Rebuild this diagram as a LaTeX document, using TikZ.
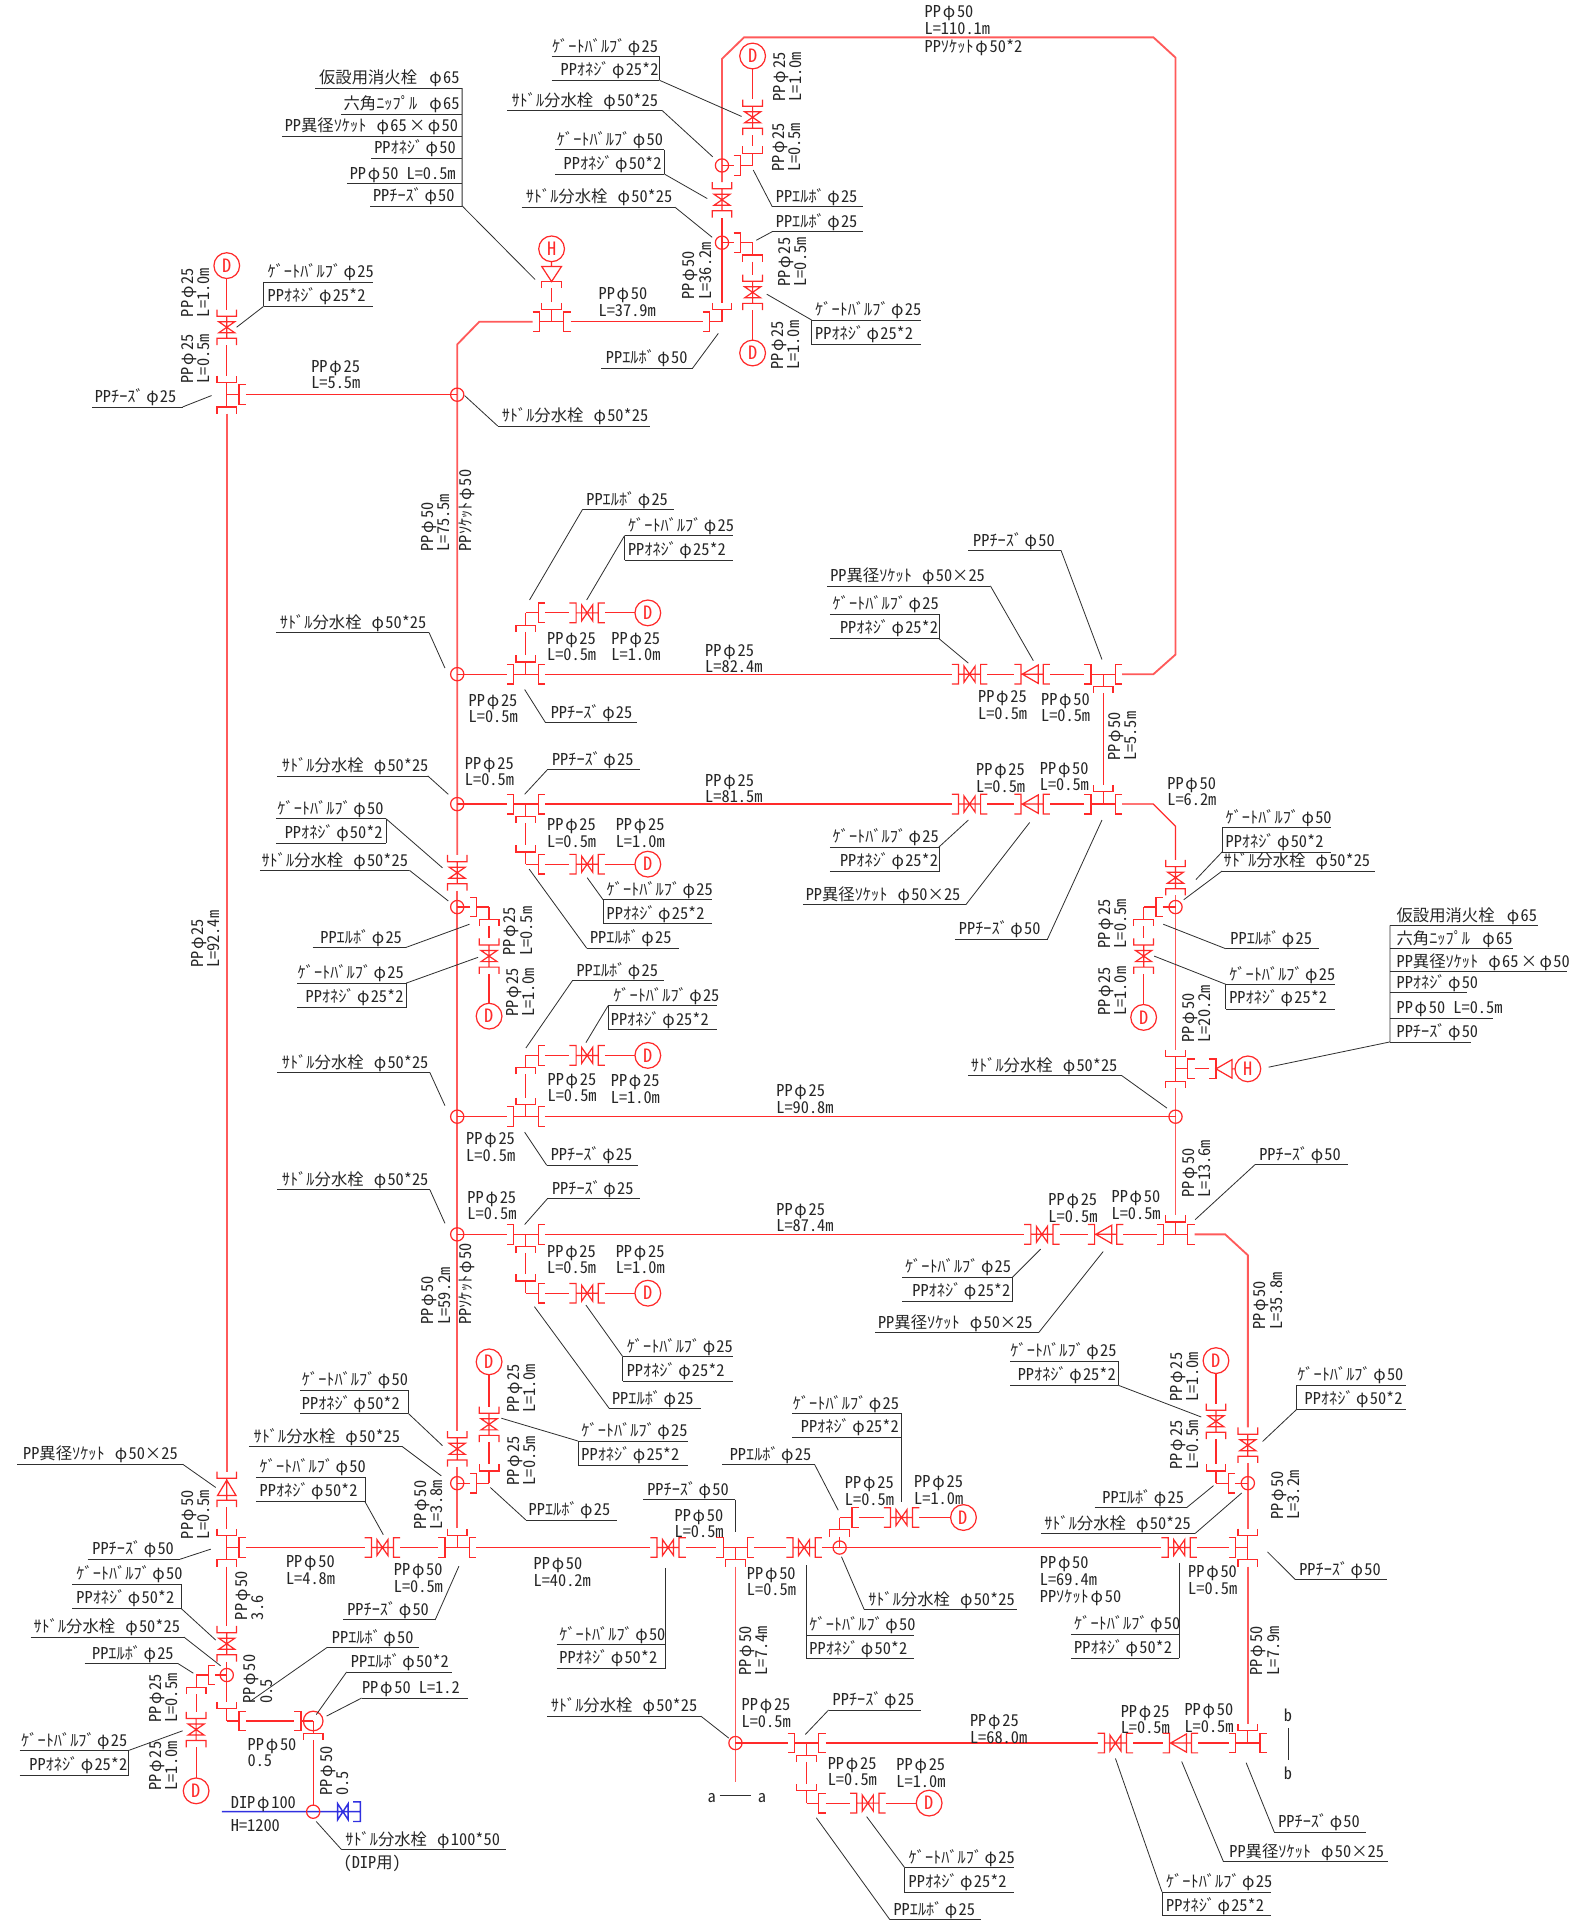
\documentclass[tikz,border=0pt]{standalone}
\usepackage{fontspec}
\setmainfont[RawFeature=+hwid]{Noto Sans CJK JP}
\definecolor{pipered}{HTML}{FF2A2A}
\definecolor{mainred}{HTML}{FF5A5A}
\definecolor{leadgray}{HTML}{303030}
\definecolor{bluepipe}{HTML}{3030E0}
\tikzset{
 pipe/.style={draw=pipered,line width=0.6pt},
 mainpipe/.style={draw=mainred,line width=0.9pt},
 bpipe/.style={draw=bluepipe,line width=0.7pt},
 lead/.style={draw=leadgray,line width=0.4pt},
 txt/.style={anchor=base west,inner sep=0pt,text=black!85,font=\fontsize{8}{8}\selectfont},
 vtxt/.style={txt,rotate=90},
 bub/.style={circle,draw=pipered,line width=0.6pt,minimum size=12.6pt,inner sep=0pt,text=pipered,font=\fontsize{9}{9}\selectfont}
}
\newcount\tc
\newcommand\hs{\hspace{.15em}}
\newcommand\ph{φ\kern.08em}
\newcommand\pk{\kern.11em φ\kern.11em}
\newcommand\lGV[1]{ｹﾞｰﾄﾊﾞﾙﾌﾞ\hs\ph#1}
\newcommand\lON[1]{PPｵﾈｼﾞ\hs\ph#1}
\newcommand\lSD[1]{ｻﾄﾞﾙ分水栓\hspace{.62em}\ph#1}
\newcommand\lEB[1]{PPｴﾙﾎﾞ\hs\ph#1}
\newcommand\lTE[1]{PPﾁｰｽﾞ\hs\ph#1}
\newcommand\lRS[1]{PP異径ｿｹｯﾄ\hspace{.62em}\ph#1}
\newcommand\lP[1]{PP\pk#1}
% text
\newcommand\Tx[3]{\global\advance\tc by 1 \node (t\the\tc) [txt] at ({#1},{#2+5.5}) {#3};}
\newcommand\Tb[4]{\Tx{#1}{#2}{#3}\Tx{#1}{#2+13.5}{#4}}
\newcommand\Vx[3]{\global\advance\tc by 1 \node (t\the\tc) [vtxt] at ({#1+4.5},{#2}) {#3};}
\newcommand\Vb[4]{\Vx{#1-6.7}{#2}{#3}\Vx{#1+6.7}{#2}{#4}}
\newcommand\Ld[1]{\draw[lead] #1;}
\newcommand\UL[5]{\draw[lead] ({#2},{#4})--({#3},{#4}); \Tx{#1}{#4-9}{#5}}
\newcommand\PairL[9]{\draw[lead] ({#1},{#3})--({#2},{#3}) ({#1},{#4})--({#2},{#4}) ({#5},{#3})--({#5},{#4}); \Tx{#6}{#3-9}{#7}\Tx{#8}{#3+10.5}{#9}}
% pipes
\newcommand\Pp[1]{\draw[pipe] #1;}
\newcommand\Mp[1]{\draw[mainpipe] #1;}
\newcommand\armr[2]{\draw[pipe] ({#1},{#2})--({#1+10},{#2}) ({#1+15.5},{#2-8})--({#1+10},{#2-8})--({#1+10},{#2+8})--({#1+15.5},{#2+8});}
\newcommand\arml[2]{\draw[pipe] ({#1},{#2})--({#1-10},{#2}) ({#1-15.5},{#2-8})--({#1-10},{#2-8})--({#1-10},{#2+8})--({#1-15.5},{#2+8});}
\newcommand\armu[2]{\draw[pipe] ({#1},{#2})--({#1},{#2-10}) ({#1-8},{#2-15.5})--({#1-8},{#2-10})--({#1+8},{#2-10})--({#1+8},{#2-15.5});}
\newcommand\armd[2]{\draw[pipe] ({#1},{#2})--({#1},{#2+10}) ({#1-8},{#2+15.5})--({#1-8},{#2+10})--({#1+8},{#2+10})--({#1+8},{#2+15.5});}
\newcommand\Jn[3]{\foreach \dd in {#3}{\csname arm\dd\endcsname{#1}{#2}}}
\newcommand\Vh[2]{\draw[pipe] ({#1-9},{#2})--({#1+9},{#2})
 ({#1-14.5},{#2-8})--({#1-9},{#2-8})--({#1-9},{#2+8})--({#1-14.5},{#2+8})
 ({#1+14.5},{#2-8})--({#1+9},{#2-8})--({#1+9},{#2+8})--({#1+14.5},{#2+8})
 ({#1-4.5},{#2-6.5})--({#1+4.5},{#2+6.5})--({#1+4.5},{#2-6.5})--({#1-4.5},{#2+6.5})--cycle;}
\newcommand\Vv[2]{\draw[pipe] ({#1},{#2-9})--({#1},{#2+9})
 ({#1-8},{#2-14.5})--({#1-8},{#2-9})--({#1+8},{#2-9})--({#1+8},{#2-14.5})
 ({#1-8},{#2+14.5})--({#1-8},{#2+9})--({#1+8},{#2+9})--({#1+8},{#2+14.5})
 ({#1-6.5},{#2-4.5})--({#1+6.5},{#2+4.5})--({#1-6.5},{#2+4.5})--({#1+6.5},{#2-4.5})--cycle;}
\newcommand\Rh[2]{\draw[pipe] ({#1-9},{#2})--({#1+9},{#2})
 ({#1-14.5},{#2-8})--({#1-9},{#2-8})--({#1-9},{#2+8})--({#1-14.5},{#2+8})
 ({#1+14.5},{#2-8})--({#1+9},{#2-8})--({#1+9},{#2+8})--({#1+14.5},{#2+8})
 ({#1-8},{#2})--({#1+5},{#2-7.5})--({#1+5},{#2+7.5})--cycle;}
\newcommand\Rv[2]{\draw[pipe] ({#1},{#2-9})--({#1},{#2+9})
 ({#1-8},{#2-14.5})--({#1-8},{#2-9})--({#1+8},{#2-9})--({#1+8},{#2-14.5})
 ({#1-8},{#2+14.5})--({#1-8},{#2+9})--({#1+8},{#2+9})--({#1+8},{#2+14.5})
 ({#1},{#2-7.5})--({#1-7.5},{#2+5})--({#1+7.5},{#2+5})--cycle;}
\newcommand\Cs[2]{\draw[pipe] ({#1},{#2}) circle [radius=5.4];}
\newcommand\Bb[3]{\global\advance\tc by 1 \node (b\the\tc) [bub] at ({#1},{#2}) {#3};}
\newcommand\Bch[5]{\Jn{429}{#1}{l,r,#3}\Jn{429}{#2}{#4,r}
 \Pp{(429,{#1+#5*15.5})--(429,{#2-#5*15.5})}
 \Vh{479}{#2}\Pp{(444.5,#2)--(464.5,#2) (493.5,#2)--(518,#2)}\Bb{528.5}{#2}{D}}
\begin{document}
\begin{tikzpicture}[x=0.6pt,y=-0.6pt]
\useasboundingbox (0,0) rectangle (1283,1568);
% ---------- main pipes
\Mp{(434.5,262.5)--(391,262.5)--(373,281)--(373,697.5)}
\Vv{373}{712}
\Mp{(373,726.5)--(373,1167.5)}
\Vv{373}{1182}
\Mp{(373,1196.5)--(373,1246.5)}
\Cs{373}{322}\Cs{373}{550}\Cs{373}{656}\Cs{373}{740}\Cs{373}{911}\Cs{373}{1007}\Cs{373}{1210}
\Jn{373}{1262.5}{l,r,u}
% left riser
\Bb{185}{216.7}{D}
\Pp{(185,227)--(185,252.5)}\Vv{185}{267}\Pp{(185,281.5)--(185,306.5)}
\Jn{185}{322}{u,d,r}
\Pp{(200.5,322)--(373,322)}
\Mp{(185,337.5)--(185,1200.5)}
\Rv{185}{1215}\Pp{(185,1229.5)--(185,1247)}
\Jn{185}{1262.5}{u,d,r}
\Pp{(185,1278)--(185,1326.5)}\Vv{185}{1341}\Pp{(185,1355.5)--(185,1388.5)}
\Jn{185}{1404}{u,r}\Pp{(200.5,1404)--(240,1404)}
\Jn{255.5}{1404}{l,d}\draw[pipe] (255.5,1404) circle [radius=8];
\Pp{(255.5,1419.5)--(255.5,1473)}
\Cs{185}{1366.5}
\Jn{160}{1366.5}{r,d}\Pp{(175.5,1366.5)--(185,1366.5) (160,1382)--(160,1396.5)}
\Vv{160}{1411}\Pp{(160,1425.5)--(160,1450.5)}\Bb{160}{1461}{D}
% blue
\draw[bpipe] (181,1478)--(294,1478) (288,1470)--(294,1470)--(294,1486)--(288,1486)
 (275.5,1471.5)--(284,1484.5)--(284,1471.5)--(275.5,1484.5)--cycle;
\Cs{255.5}{1478}
% top loop
\Jn{450}{262.5}{l,r,u}
\Pp{(450,246.5)--(450,235) (442,235)--(442,229.7)--(458,229.7)--(458,235)}
\Pp{(450,229.7)--(442,217.5)--(458,217.5)--cycle (450,217.5)--(450,213.5)}
\Bb{450}{203}{H}
\Pp{(465.5,262.5)--(573.5,262.5)}
\Jn{589}{262.5}{l,u}
\Pp{(589,247)--(589,177.5)}\Vv{589}{163}
\Mp{(589,148.5)--(589,48)--(607,30.5)--(941,30.5)--(959,47)--(959,534)--(941,550)--(915.5,550)}
\Cs{589}{135}\Cs{589}{198}
\Bb{614}{45.7}{D}\Pp{(614,56)--(614,81)}\Vv{614}{95.7}\Pp{(614,110.2)--(614,119.5)}
\Jn{614}{135}{u,l}\Pp{(598.5,135)--(589,135)}
\Jn{614}{198}{l,d}\Pp{(598.5,198)--(589,198) (614,213.5)--(614,224)}
\Vv{614}{238.5}\Pp{(614,253)--(614,277.5)}\Bb{614}{288}{D}
% branches
\Bch{550}{500}{u}{d}{-1}
\Bch{656}{705}{d}{u}{1}
\Bch{911}{861}{u}{d}{-1}
\Bch{1007}{1055}{d}{u}{1}
% row 550
\Pp{(373,550)--(413.5,550) (444.5,550)--(776.5,550) (805.5,550)--(827.5,550) (856.5,550)--(884.5,550)}
\Vh{791}{550}\Rh{842}{550}\Jn{900}{550}{l,r,d}
\Pp{(900,565.5)--(900,640.5)}
% row 656
\Pp{(373,656)--(413.5,656) (444.5,656)--(776.5,656) (805.5,656)--(827.5,656) (856.5,656)--(884.5,656)}
\Vh{791}{656}\Rh{842}{656}\Jn{900}{656}{l,r,u}
\Pp{(915.5,656)--(941,656)--(959,674)--(959,701.5)}
\Vv{959}{716}
\Mp{(959,730.5)--(959,856.5)}
\Cs{959}{740}
\Jn{933}{740}{r,d}\Pp{(948.5,740)--(959,740) (933,755.5)--(933,765.5)}
\Vv{933}{780}\Pp{(933,794.5)--(933,819.5)}\Bb{933}{830}{D}
\Jn{959}{872}{u,d,r}
\Pp{(974.5,872)--(986.5,872) (986.5,864)--(992,864)--(992,880)--(986.5,880)}
\Pp{(992,872)--(1005,864.5)--(1005,879.5)--cycle (1005,872)--(1008,872)}
\Bb{1018}{872}{H}
\Mp{(959,887.5)--(959,991.5)}
% row 911
\Pp{(373,911)--(413.5,911) (444.5,911)--(959,911)}\Cs{959}{911}
% row 1007
\Pp{(373,1007)--(413.5,1007) (444.5,1007)--(835.5,1007) (864.5,1007)--(887.5,1007) (916.5,1007)--(943.5,1007)}
\Vh{850}{1007}\Rh{902}{1007}\Jn{959}{1007}{l,r,u}
\Mp{(974.5,1007)--(999.5,1007)--(1018,1024)--(1018,1164.5)}
\Vv{1018}{1179}\Mp{(1018,1193.5)--(1018,1247)}\Cs{1018}{1210}
\Bb{992}{1110}{D}\Pp{(992,1120.5)--(992,1145)}\Vv{992}{1159.5}\Pp{(992,1174)--(992,1194.5)}
\Jn{992}{1210}{u,r}\Pp{(1007.5,1210)--(1018,1210)}
% row 1262
\Pp{(200.5,1262.5)--(297.5,1262.5) (326.5,1262.5)--(357.5,1262.5) (388.5,1262.5)--(530.5,1262.5) (559.5,1262.5)--(584.5,1262.5) (615.5,1262.5)--(641.5,1262.5) (670.5,1262.5)--(947.5,1262.5) (976.5,1262.5)--(1002.5,1262.5)}
\Vh{312}{1262.5}\Vh{545}{1262.5}\Jn{600}{1262.5}{l,r,d}\Vh{656}{1262.5}\Vh{962}{1262.5}
\Jn{1018}{1262.5}{l,u,d}\Cs{685}{1262.5}
\Jn{685}{1238}{d,r}\Pp{(685,1253.5)--(685,1262.5) (700.5,1238)--(721,1238) (750,1238)--(775.5,1238)}
\Vh{735.5}{1238}\Bb{786}{1238}{D}
\Mp{(1018,1278)--(1018,1406.5)}
% lower
\Bb{399}{829}{D}
\Jn{399}{740}{l,d}\Pp{(383.5,740)--(373,740) (399,755.5)--(399,765.5)}\Vv{399}{780}\Pp{(399,794.5)--(399,818.5)}
\Bb{399}{1111}{D}\Pp{(399,1121.5)--(399,1147.5)}\Vv{399}{1162}\Pp{(399,1176.5)--(399,1194.5)}
\Jn{399}{1210}{l,u}\Pp{(383.5,1210)--(373,1210)}
\Mp{(600,1278)--(600,1454)}\Cs{600}{1422}
\Pp{(600,1422)--(642.5,1422) (673.5,1422)--(895.5,1422) (924.5,1422)--(948.5,1422) (977.5,1422)--(1002.5,1422)}
\Jn{658}{1422}{l,r,d}\Vh{910}{1422}\Rh{963}{1422}\Jn{1018}{1422}{l,u,r}
\Pp{(658,1437.5)--(658,1455.5) (673.5,1471)--(693.5,1471) (722.5,1471)--(747.5,1471)}
\Jn{658}{1471}{u,r}\Vh{708}{1471}\Bb{758}{1471}{D}
% ---------- labels
\Tx{754}{9}{\lP{50}}\Tx{754}{22.5}{L=110.1m}\Tx{754}{37}{PPｿｹｯﾄ\pk50*2}
\PairL{450}{538}{46}{65.5}{538}{450}{\lGV{25}}{457}{\lON{25*2}}\Ld{(538,65.5)--(605,95)}
\UL{417}{414}{540}{90}{\lSD{50*25}}\Ld{(540,90)--(581.5,128)}
\PairL{453}{542}{122}{142}{542}{454}{\lGV{50}}{459.5}{\lON{50*2}}\Ld{(542,142)--(577,162)}
\UL{428.6}{425.5}{550.6}{169}{\lSD{50*25}}\Ld{(550.6,169)--(581,193.6)}
\UL{632.6}{630}{704}{168.6}{\lEB{25}}\Ld{(630,168.6)--(614.5,138.7)}
\UL{632.6}{630}{704}{189}{\lEB{25}}\Ld{(630,189)--(617,196)}
\PairL{662}{751}{261}{280.6}{662}{664.7}{\lGV{25}}{664.7}{\lON{25*2}}\Ld{(662,261)--(625.5,240)}
\UL{494}{490.7}{565}{300.4}{\lEB{50}}\Ld{(565,300.4)--(586,272)}
\Vb{643}{83}{\lP{25}}{L=1.0m}
\Vb{642}{140.6}{\lP{25}}{L=0.5m}
\Vb{647}{234}{\lP{25}}{L=0.5m}
\Vb{641}{302}{\lP{25}}{L=1.0m}
\Vb{569}{244.7}{\lP{50}}{L=36.2m}
\Tb{488}{239}{\lP{50}}{L=37.9m}
% hydrant stack top
\UL{260}{257}{377}{72}{仮設用消火栓\hspace{.75em}\ph65}
\UL{280}{278}{377}{93}{六角ﾆｯﾌﾟﾙ\hspace{.75em}\ph65}
\UL{232}{230}{377}{111}{PP異径ｿｹｯﾄ\hspace{.62em}\ph65\kern.15em×\kern.15em\ph50}
\UL{305}{303}{377}{129}{PPｵﾈｼﾞ\hs\ph50}
\UL{285}{283}{377}{150}{\lP{50} L=0.5m}
\UL{304}{302}{377}{168}{\lTE{50}}
\Ld{(377,72)--(377,168)--(436.5,228)}
% top-left
\Vb{160}{259}{\lP{25}}{L=1.0m}
\Vb{160}{313}{\lP{25}}{L=0.5m}
\PairL{215}{304}{230}{250}{215}{218}{\lGV{25}}{218}{\lON{25*2}}\Ld{(215,250)--(193,267)}
\UL{77}{75}{149}{332}{\lTE{25}}\Ld{(149,332)--(172.6,322.7)}
\Tb{253.6}{298}{\lP{25}}{L=5.5m}
\UL{409}{406}{530}{347.5}{\lSD{50*25}}\Ld{(406,347.5)--(379,322.7)}
\Vb{355.5}{450}{\lP{50}}{L=75.5m}
\Vx{380}{450}{PPｿｹｯﾄ\pk50}
\Vb{168}{790}{\lP{25}}{L=92.4m}
% row 550
\UL{228}{225}{350}{516}{\lSD{50*25}}\Ld{(350,516)--(363,545)}
\Tb{382}{570.5}{\lP{25}}{L=0.5m}
\UL{449}{445}{520}{589.5}{\lTE{25}}\Ld{(445,589.5)--(428,562.5)}
\UL{478}{475.3}{550}{415.5}{\lEB{25}}\Ld{(475.3,415.5)--(432,489.5)}
\PairL{509.5}{598}{437}{457}{509.5}{512}{\lGV{25}}{512}{\lON{25*2}}\Ld{(509.5,437)--(478.6,489.5)}
\Tb{446}{520}{\lP{25}}{L=0.5m}
\Tb{498.5}{520}{\lP{25}}{L=1.0m}
\Tb{575}{530}{\lP{25}}{L=82.4m}
\UL{793.6}{790}{865.6}{449}{\lTE{50}}\Ld{(865.6,449)--(899,538)}
\UL{677}{675}{808}{478}{\lRS{50×25}}\Ld{(808,478)--(843,539)}
\PairL{677}{766}{501}{521}{766}{679}{\lGV{25}}{685}{\lON{25*2}}\Ld{(766,521)--(790,541)}
\Tb{797.6}{568}{\lP{25}}{L=0.5m}
\Tb{849}{570}{\lP{50}}{L=0.5m}
\Vb{916}{621}{\lP{50}}{L=5.5m}
% row 656
\UL{229.7}{226}{349}{633}{\lSD{50*25}}\Ld{(349,633)--(365.7,648)}
\Tb{379}{622}{\lP{25}}{L=0.5m}
\UL{450}{446.5}{522}{628}{\lTE{25}}\Ld{(446.5,628)--(428,648)}
\Tb{575}{636}{\lP{25}}{L=81.5m}
\Tb{446}{672}{\lP{25}}{L=0.5m}
\Tb{502}{672}{\lP{25}}{L=1.0m}
\PairL{492}{581}{734}{753.5}{492}{494.6}{\lGV{25}}{494.6}{\lON{25*2}}\Ld{(492,734)--(479,716)}
\UL{481}{478.6}{553.6}{773.5}{\lEB{25}}\Ld{(478.6,773.5)--(431.7,709)}
\PairL{225}{315}{668}{688}{315}{226}{\lGV{50}}{232}{\lON{50*2}}\Ld{(315,668)--(361,708)}
\UL{213}{212}{334}{710}{\lSD{50*25}}\Ld{(334,710)--(365.7,735)}
\UL{261}{255}{331}{773}{\lEB{25}}\Ld{(331,773)--(383,754)}
\PairL{242.5}{331.5}{802}{822}{331.5}{242.5}{\lGV{25}}{249}{\lON{25*2}}\Ld{(331.5,802)--(390,781)}
\Vb{423}{780}{\lP{25}}{L=0.5m}
\Vb{425}{830}{\lP{25}}{L=1.0m}
\Tb{796}{627.5}{\lP{25}}{L=0.5m}
\Tb{848}{626}{\lP{50}}{L=0.5m}
\Tb{952}{638.5}{\lP{50}}{L=6.2m}
\PairL{677}{766}{691}{711}{766}{679}{\lGV{25}}{685}{\lON{25*2}}\Ld{(766,691)--(790,669)}
\UL{657}{655}{788}{738}{\lRS{50×25}}\Ld{(788,738)--(840,671)}
\UL{782}{779}{854.6}{766}{\lTE{50}}\Ld{(854.6,766)--(899,669)}
\PairL{997}{1086}{675}{695}{997}{999.5}{\lGV{50}}{999.5}{\lON{50*2}}\Ld{(997,695)--(975.6,717.6)}
\UL{998}{997}{1122}{710.6}{\lSD{50*25}}\Ld{(997,710.6)--(965.7,734)}
\UL{1003.5}{1000}{1076}{774}{\lEB{25}}\Ld{(1000,774)--(949,754)}
\PairL{1000}{1089}{803}{823.5}{1000}{1002.5}{\lGV{25}}{1002.5}{\lON{25*2}}\Ld{(1000,803)--(941.6,780)}
\Vb{908}{774}{\lP{25}}{L=0.5m}
\Vb{908}{829}{\lP{25}}{L=1.0m}
\Vb{976.5}{850.7}{\lP{50}}{L=20.2m}
\UL{1139}{1134}{1255}{755}{仮設用消火栓\hspace{.75em}\ph65}
\UL{1139}{1134}{1234.5}{774}{六角ﾆｯﾌﾟﾙ\hspace{.75em}\ph65}
\UL{1139}{1134}{1278}{792.5}{PP異径ｿｹｯﾄ\hspace{.62em}\ph65\kern.15em×\kern.15em\ph50}
\UL{1139}{1134}{1197}{810}{PPｵﾈｼﾞ\hs\ph50}
\UL{1139}{1134}{1218.4}{830.7}{\lP{50} L=0.5m}
\UL{1139}{1134}{1200}{850}{\lTE{50}}
\Ld{(1134,755)--(1134,850)--(1035,870.6)}
\UL{791.8}{790}{915}{877.4}{\lSD{50*25}}\Ld{(790,877.4)--(915,877.4)--(952,904)}
% row 911
\UL{229.7}{226}{350.7}{875}{\lSD{50*25}}\Ld{(350.7,875)--(363,902)}
\UL{470}{467}{542}{800}{\lEB{25}}\Ld{(467,800)--(429,855)}
\PairL{496}{585}{820.6}{840}{496}{500}{\lGV{25}}{498}{\lON{25*2}}\Ld{(496,820.6)--(478,850.6)}
\Tb{446.4}{880}{\lP{25}}{L=0.5m}
\Tb{498}{881}{\lP{25}}{L=1.0m}
\Tb{380}{928.6}{\lP{25}}{L=0.5m}
\UL{449}{446}{520.7}{950.6}{\lTE{25}}\Ld{(446,950.6)--(428,923.6)}
\Tb{633}{889}{\lP{25}}{L=90.8m}
\Vb{976.5}{977}{\lP{50}}{L=13.6m}
% row 1007
\UL{229.7}{226}{350.7}{970.6}{\lSD{50*25}}\Ld{(350.7,970.6)--(363,998)}
\Tb{381}{976}{\lP{25}}{L=0.5m}
\UL{450}{446.5}{522}{978}{\lTE{25}}\Ld{(446.5,978)--(428,999)}
\Tb{446}{1020}{\lP{25}}{L=0.5m}
\Tb{502}{1020}{\lP{25}}{L=1.0m}
\Vb{356}{1081}{\lP{50}}{L=59.2m}
\Vx{380}{1081}{PPｿｹｯﾄ\pk50}
\PairL{508}{597.7}{1106.7}{1127}{508}{511}{\lGV{25}}{511}{\lON{25*2}}\Ld{(508,1106.7)--(478,1064.7)}
\UL{499}{497}{572}{1149}{\lEB{25}}\Ld{(497,1149)--(436,1066)}
\Tb{633}{986}{\lP{25}}{L=87.4m}
\Tb{855}{978}{\lP{25}}{L=0.5m}
\Tb{906.5}{975.5}{\lP{50}}{L=0.5m}
\UL{1027}{1024}{1100}{950}{\lTE{50}}\Ld{(1024,950)--(975,995)}
\PairL{736}{826}{1042}{1062}{826}{738}{\lGV{25}}{744}{\lON{25*2}}\Ld{(826,1042)--(849,1019)}
\UL{716}{714}{847.5}{1087}{\lRS{50×25}}\Ld{(847.5,1087)--(900,1021)}
\Vb{1035}{1085}{\lP{50}}{L=35.8m}
% right lower
\PairL{824}{912}{1110.5}{1130}{912}{824}{\lGV{25}}{830}{\lON{25*2}}\Ld{(912,1130)--(980,1156)}
\Vb{966.5}{1143.6}{\lP{25}}{L=1.0m}
\Vb{966.5}{1199}{\lP{25}}{L=0.5m}
\PairL{1057.6}{1147}{1130}{1150}{1057.6}{1058}{\lGV{50}}{1064}{\lON{50*2}}\Ld{(1057.6,1150)--(1030,1176)}
\Vb{1049}{1240}{\lP{50}}{L=3.2m}
\UL{899}{893}{968}{1230}{\lEB{25}}\Ld{(968,1230)--(990,1212)}
\UL{851.6}{849.6}{975}{1251}{\lSD{50*25}}\Ld{(975,1251)--(1013,1218)}
\Tx{848}{1274}{\lP{50}}\Tx{848}{1288}{L=69.4m}\Tx{848}{1301.5}{PPｿｹｯﾄ\pk50}
\Tb{969}{1281.6}{\lP{50}}{L=0.5m}
\UL{1059.6}{1056.7}{1131.6}{1288.6}{\lTE{50}}\Ld{(1056.7,1288.6)--(1034,1266)}
\PairL{873.6}{962}{1333}{1353}{962}{876}{\lGV{50}}{876}{\lON{50*2}}\Ld{(962,1275)--(962,1333)}
\Vb{1032.5}{1367}{\lP{50}}{L=7.9m}
\Tb{914}{1395.5}{\lP{25}}{L=0.5m}
\Tb{966}{1394}{\lP{50}}{L=0.5m}
\UL{1042.5}{1039.5}{1114.6}{1494.5}{\lTE{50}}\Ld{(1039.5,1494.5)--(1016.6,1438)}
\UL{1002.6}{998}{1132.6}{1518.5}{\lRS{50×25}}\Ld{(998,1518.5)--(964,1437)}
\PairL{948}{1036.8}{1543.5}{1563}{948}{951}{\lGV{25}}{951}{\lON{25*2}}\Ld{(948,1543.5)--(910,1434.6)}
\Tb{791}{1403}{\lP{25}}{L=68.0m}
% centre lower
\PairL{646.5}{735.5}{1153}{1172.5}{735.5}{646.5}{\lGV{25}}{653}{\lON{25*2}}\Ld{(735.5,1172.5)--(735.5,1225.4)}
\UL{595}{589.4}{664.7}{1195}{\lEB{25}}\Ld{(664.7,1195)--(683.8,1232)}
\Tb{689}{1209}{\lP{25}}{L=0.5m}
\Tb{745.5}{1208}{\lP{25}}{L=1.0m}
\PairL{471.6}{561}{1175.6}{1195.5}{471.6}{474}{\lGV{25}}{474}{\lON{25*2}}\Ld{(471.6,1175.6)--(409,1157)}
\UL{527.7}{524.9}{600}{1223.5}{\lTE{50}}\Ld{(600,1223.5)--(600,1250)}
\Tb{550}{1235.6}{\lP{50}}{L=0.5m}
\Tb{609}{1283}{\lP{50}}{L=0.5m}
\Tb{435}{1275}{\lP{50}}{L=40.2m}
\PairL{454}{543}{1341.5}{1361}{543}{456}{\lGV{50}}{456}{\lON{50*2}}\Ld{(543,1279)--(543,1341.5)}
\PairL{657.9}{746}{1334}{1353}{657.9}{660}{\lGV{50}}{660}{\lON{50*2}}\Ld{(657.9,1277)--(657.9,1334)}
\UL{708}{705}{830}{1313}{\lSD{50*25}}\Ld{(705,1313)--(686.5,1270)}
\Vb{615}{1367}{\lP{50}}{L=7.4m}
\UL{449}{446.5}{571.7}{1400}{\lSD{50*25}}\Ld{(571.7,1400)--(594.6,1418)}
\Tb{604.7}{1390}{\lP{25}}{L=0.5m}
\UL{679}{676}{751}{1395}{\lTE{25}}\Ld{(676,1395)--(657,1415)}
\Tb{675}{1438}{\lP{25}}{L=0.5m}
\Tb{731}{1439}{\lP{25}}{L=1.0m}
\PairL{738}{827.5}{1523.6}{1544}{738}{741}{\lGV{25}}{741}{\lON{25*2}}\Ld{(738,1523.6)--(707,1482)}
\UL{728.6}{725.9}{800}{1566}{\lEB{25}}\Ld{(725.9,1566)--(666,1483)}
\Tx{577}{1465}{a}\Ld{(587,1465)--(613,1465)}\Tx{618}{1465}{a}
\Tx{1047}{1399}{b}\Ld{(1051.4,1409.6)--(1051.4,1435.6)}\Tx{1047}{1446}{b}
% bottom left
\UL{18.5}{14}{149}{1194.5}{\lRS{50×25}}\Ld{(149,1194.5)--(176,1213.5)}
\Vb{160}{1256}{\lP{50}}{L=0.5m}
\UL{75}{71.5}{147}{1272}{\lTE{50}}\Ld{(147,1272)--(172,1263.8)}
\Tb{233}{1273.6}{\lP{50}}{L=4.8m}
\Tb{321}{1280}{\lP{50}}{L=0.5m}
\Vb{350}{1248}{\lP{50}}{L=3.8m}
\UL{206.6}{203}{328}{1180}{\lSD{50*25}}\Ld{(328,1180)--(360,1204)}
\PairL{208.8}{297.7}{1205}{1225}{297.7}{211.5}{\lGV{50}}{211.5}{\lON{50*2}}\Ld{(297.7,1225)--(312.7,1252)}
\PairL{245}{333}{1134}{1153}{333}{246}{\lGV{50}}{246}{\lON{50*2}}\Ld{(333,1153)--(361,1179.4)}
\UL{283}{280}{355}{1321.5}{\lTE{50}}\Ld{(355,1321.5)--(374.4,1277.7)}
\UL{431}{429}{503}{1240}{\lEB{25}}\Ld{(429,1240)--(400,1213.5)}
\Vb{426}{1153}{\lP{25}}{L=1.0m}
\Vb{426}{1212}{\lP{25}}{L=0.5m}
\Vb{204}{1322}{\lP{50}}{3.6}
\PairL{59}{148}{1292.3}{1312.4}{148}{62}{\lGV{50}}{62}{\lON{50*2}}\Ld{(148,1312.4)--(176,1338)}
\UL{27}{25}{150}{1335.5}{\lSD{50*25}}\Ld{(150,1335.5)--(180,1359)}
\UL{74.8}{69}{145}{1357}{\lEB{25}}\Ld{(145,1357)--(157.7,1365)}
\Vb{134}{1405.6}{\lP{25}}{L=0.5m}
\Vb{134}{1461}{\lP{25}}{L=1.0m}
\PairL{16}{105}{1428}{1448}{105}{17}{\lGV{25}}{23.6}{\lON{25*2}}\Ld{(105,1428)--(149,1412)}
\Vb{211}{1390}{\lP{50}}{0.5}
\UL{270.5}{267}{342}{1343.9}{\lEB{50}}\Ld{(267,1343.9)--(204,1388)}
\UL{286}{282.8}{369}{1364}{\lEB{50*2}}\Ld{(282.8,1364)--(258,1398.8)}
\UL{295}{295}{381.5}{1385.3}{\lP{50}\hspace{.5em}L=1.2}\Ld{(295,1385.3)--(266.4,1400)}
\Tb{201.7}{1422.5}{\lP{50}}{0.5}
\Vb{273.5}{1465}{\lP{50}}{0.5}
\Tx{188}{1469.5}{DIP\pk100}\Tx{188}{1489}{H=1200}
\UL{281.4}{278.7}{412.7}{1509}{\lSD{100*50}}\Ld{(278.7,1509)--(258,1486)}
\Tx{280}{1519}{(DIP用)}
\end{tikzpicture}
\end{document}
